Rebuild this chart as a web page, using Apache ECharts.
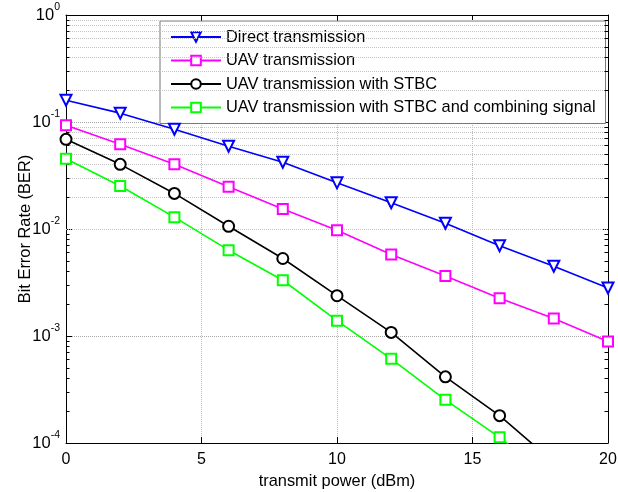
<!DOCTYPE html>
<html><head><meta charset="utf-8">
<script src="https://cdn.jsdelivr.net/npm/echarts@6/dist/echarts.min.js"></script>
<style>html,body{margin:0;padding:0;background:#fff}#c{width:618px;height:492px}</style>
</head><body><div id="c"></div>
<script>
const xs = [0, 2, 4, 6, 8, 10, 12, 14, 16, 18, 20];
const direct = [0.16, 0.121, 0.0855, 0.0593, 0.042, 0.027, 0.0176, 0.0113, 0.00697, 0.00449, 0.00281];
const uav = [0.0933, 0.062, 0.0402, 0.0248, 0.0154, 0.00974, 0.00577, 0.00364, 0.00225, 0.00146, 0.00089];
const stbc = [0.0689, 0.0402, 0.0215, 0.0106, 0.0053, 0.00238, 0.00108, 0.000415, 0.00018, 0.000066, 0.000025];
const comb = [0.0454, 0.0252, 0.0129, 0.00634, 0.00332, 0.00139, 0.000612, 0.000253, 0.000113, 0.000044, 0.000018];
const names = ['Direct transmission', 'UAV transmission', 'UAV transmission with STBC', 'UAV transmission with STBC and combining signal'];
const xTicks = [0, 5, 10, 15, 20];
const decades = [1e-4, 1e-3, 1e-2, 1e-1, 1];
const minorMult = [2, 3, 4, 5, 6, 7, 8, 9];

const FONT = 'Liberation Sans, Arial, sans-serif';
const minorVals = [];
decades.slice(0, 4).forEach(d => minorMult.forEach(m => minorVals.push(d * m)));

const pair = arr => xs.map((x, i) => [x, arr[i]]);
const gridMarks = minorVals.map(v => ({ yAxis: v }));
const tickMarks = [];
minorVals.forEach(v => {
  tickMarks.push([{ coord: [0, v] }, { coord: [0.13, v] }]);
  tickMarks.push([{ coord: [19.87, v] }, { coord: [20, v] }]);
});

const supLabel = v => {
  const e = Math.round(Math.log10(v));
  return '{b|10}{e|' + e + '}';
};

const chart = echarts.init(document.getElementById('c'), null, { renderer: 'canvas' });
const mk = (name, data, color, symbol, size, rot) => ({
  name, type: 'line', data: pair(data), z: 5,
  symbol, symbolSize: size, symbolRotate: rot || 0,
  clip: true,
  lineStyle: { color, width: 1.6 },
  itemStyle: { color, borderColor: color, borderWidth: 1.5 },
  emphasis: { disabled: true },
  animation: false
});
chart.setOption({
  animation: false,
  backgroundColor: '#fff',
  textStyle: { fontFamily: FONT },
  grid: { left: 66, right: 10, top: 15, bottom: 49, containLabel: false, outerBoundsMode: 'none' },
  legend: {
    data: names, orient: 'vertical', left: 160, top: 21,
    itemWidth: 50, itemHeight: 12, itemGap: 7.5,
    padding: [8, 10, 8, 10],
    backgroundColor: '#fff', borderColor: '#777', borderWidth: 1,
    textStyle: { fontSize: 16.4, color: '#000', fontFamily: FONT },
    selectedMode: false
  },
  xAxis: [{
    type: 'value', min: 0, max: 20, interval: 5,
    name: 'transmit power (dBm)', nameLocation: 'middle', nameGap: 30,
    nameTextStyle: { fontSize: 16.4, color: '#000', fontFamily: FONT },
    axisLine: { lineStyle: { color: '#000', width: 1 } },
    axisTick: { inside: true, length: 6, lineStyle: { color: '#000' } },
    axisLabel: { fontSize: 16, color: '#000', margin: 9, fontFamily: FONT },
    splitLine: { show: true, lineStyle: { color: '#bbb', type: 'dotted', width: 1 } }
  }, {
    type: 'value', min: 0, max: 20, interval: 5, position: 'top',
    axisLine: { onZero: false, lineStyle: { color: '#000', width: 1 } },
    axisTick: { inside: true, length: 6, lineStyle: { color: '#000' } },
    axisLabel: { show: false }, splitLine: { show: false }
  }],
  yAxis: [{
    type: 'log', logBase: 10, min: 1e-4, max: 1,
    name: 'Bit Error Rate (BER)', nameLocation: 'middle', nameGap: 33, nameRotate: 90,
    nameMoveOverlap: false,
    nameTextStyle: { fontSize: 16.4, color: '#000', fontFamily: FONT },
    axisLine: { lineStyle: { color: '#000', width: 1 } },
    axisTick: { inside: true, length: 6, lineStyle: { color: '#000' } },
    axisLabel: {
      formatter: supLabel, margin: 6, color: '#000',
      rich: {
        b: { fontSize: 16.5, color: '#000', fontFamily: FONT },
        e: { fontSize: 10.5, color: '#000', fontFamily: FONT, padding: [0, 0, 16, 0] }
      }
    },
    splitLine: { show: true, lineStyle: { color: '#aaa', type: 'dotted', width: 1 } }
  }, {
    type: 'log', logBase: 10, min: 1e-4, max: 1, position: 'right',
    axisLine: { onZero: false, lineStyle: { color: '#000', width: 1 } },
    axisTick: { inside: true, length: 6, lineStyle: { color: '#000' } },
    axisLabel: { show: false }, splitLine: { show: false }
  }],
  series: [
    {
      name: 'grid', type: 'line', data: [], z: 1, silent: true,
      markLine: {
        silent: true, symbol: 'none', label: { show: false }, animation: false,
        lineStyle: { color: '#c4c4c4', type: 'dotted', width: 1 },
        emphasis: { disabled: true },
        data: gridMarks
      }
    },
    {
      name: 'ticks', type: 'line', data: [], z: 2, silent: true,
      markLine: {
        silent: true, symbol: 'none', label: { show: false }, animation: false,
        lineStyle: { color: '#000', type: 'solid', width: 1 },
        emphasis: { disabled: true },
        data: tickMarks
      }
    },
    mk(names[0], direct, '#0000ff', 'emptyTriangle', 11, 180),
    mk(names[1], uav, '#ff00ff', 'emptyRect', 10),
    mk(names[2], stbc, '#000000', 'emptyCircle', 11),
    mk(names[3], comb, '#00ff00', 'emptyRect', 10)
  ]
});
</script></body></html>
